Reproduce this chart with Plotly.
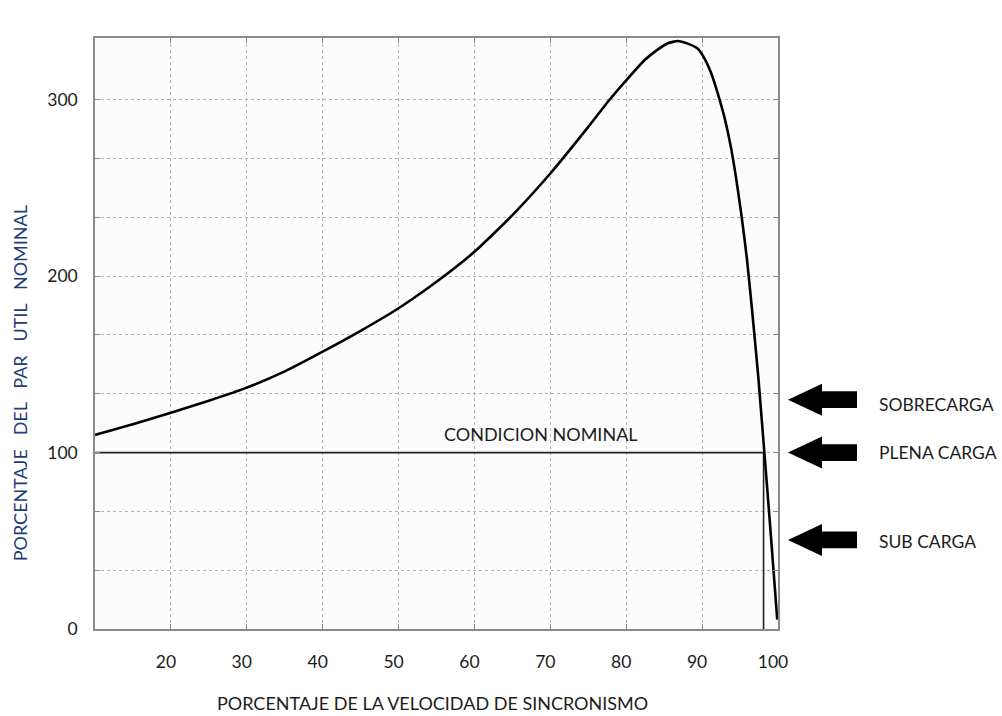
import plotly.graph_objects as go

# ---- data ----
speed_pct = [10, 15, 20, 25, 30, 35, 40, 45, 50, 55, 60, 65, 70, 75, 77.8, 80.2,
             82.4, 84, 85.5, 86.8, 88.1, 89.4, 90.3, 91.2, 92.1, 93.0, 93.8, 94.5,
             95.2, 95.9, 96.6, 97.4, 98.2, 98.8, 99.4, 99.9]
torque_pct = [110, 116, 122.6, 129.4, 136.8, 146, 157.2, 169, 181.8, 196.8,
              213.8, 234.6, 258.2, 284.6, 300, 312, 322.4, 328, 332, 333.3, 331.8,
              329, 323.5, 315, 303, 289, 273, 255, 234, 210, 180,
              143, 100.2, 67.6, 33.6, 5.3]

nominal_x = [10, 98.1, 98.1]
nominal_y = [100, 100, 0]

x_tick_vals = [20, 30, 40, 50, 60, 70, 80, 90, 100]
x_tick_text = ["20", "30", "40", "50", "60", "70", "80", "90", "100"]
y_tick_vals = [0, 100/3, 200/3, 100, 400/3, 500/3, 200, 700/3, 800/3, 300]
y_tick_text = ["0", "", "", "100", "", "", "200", "", "", "300"]

load_labels = ["SOBRECARGA", "PLENA CARGA", "SUB CARGA"]
load_arrow_y = [130, 100, 50.5]
load_label_y = [127, 100, 49.6]

FONT = "Lato"
TXT = "#1c1c1c"
GAP = "&nbsp;&nbsp;&nbsp;"

fig = go.Figure()
fig.add_trace(go.Scatter(x=nominal_x, y=nominal_y, mode="lines",
                         line=dict(color="#222222", width=1.6),
                         hoverinfo="skip", showlegend=False))
fig.add_trace(go.Scatter(x=speed_pct, y=torque_pct, mode="lines",
                         line=dict(color="#000000", width=2.6, shape="spline",
                                   smoothing=0.5),
                         showlegend=False))

shapes = []
annotations = []
arrow_path = "M 10,0 L 44,16 L 44,8.3 L 79,8.3 L 79,-8.3 L 44,-8.3 L 44,-16 Z"
for lbl, ay, ly in zip(load_labels, load_arrow_y, load_label_y):
    shapes.append(dict(type="path", xref="paper", yref="y",
                       xsizemode="pixel", ysizemode="pixel",
                       xanchor=1, yanchor=ay, path=arrow_path,
                       fillcolor="#000000", line=dict(width=0), layer="above"))
    annotations.append(dict(xref="paper", yref="y", x=1.1455, y=ly, text=lbl,
                            showarrow=False, xanchor="left", yanchor="middle",
                            font=dict(family=FONT, size=17.5, color=TXT)))

annotations.append(dict(xref="x", yref="y", x=68.8, y=110.6, text="CONDICION NOMINAL",
                        showarrow=False, xanchor="center", yanchor="middle",
                        font=dict(family=FONT, size=18, color=TXT)))
annotations.append(dict(xref="paper", yref="paper", x=0.494, y=-0.1245,
                        text="PORCENTAJE DE LA VELOCIDAD DE SINCRONISMO",
                        showarrow=False, xanchor="center", yanchor="middle",
                        font=dict(family=FONT, size=18, color=TXT)))
annotations.append(dict(xref="paper", yref="paper", x=-0.1099, y=0.4157,
                        text=GAP.join(["PORCENTAJE", "DEL", "PAR", "UTIL", "NOMINAL"]),
                        textangle=-90,
                        showarrow=False, xanchor="center", yanchor="middle",
                        font=dict(family=FONT, size=18, color="#1f3d7a")))

axis_common = dict(showline=True, linecolor="#8a8a8a", linewidth=1.5, mirror="ticks",
                   ticks="inside", ticklen=5, tickcolor="#8a8a8a", tickwidth=1.2,
                   showgrid=True, gridcolor="#b5b5b5", gridwidth=1, griddash="dot",
                   zeroline=False, tickfont=dict(family=FONT, size=17.5, color=TXT))

fig.update_xaxes(range=[10, 100], tickmode="array", tickvals=x_tick_vals,
                 ticktext=x_tick_text, ticklabelstandoff=16, ticklabelshift=-5,
                 **axis_common)
fig.update_yaxes(range=[0, 335], tickmode="array", tickvals=y_tick_vals,
                 ticktext=y_tick_text, ticklabelstandoff=12, **axis_common)

fig.update_layout(width=1002, height=716,
                  margin=dict(l=95, r=224, t=38, b=87),
                  paper_bgcolor="#ffffff", plot_bgcolor="#fcfcfc",
                  shapes=shapes, annotations=annotations,
                  font=dict(family=FONT, color=TXT), hovermode=False)

fig.write_html("out.html")
